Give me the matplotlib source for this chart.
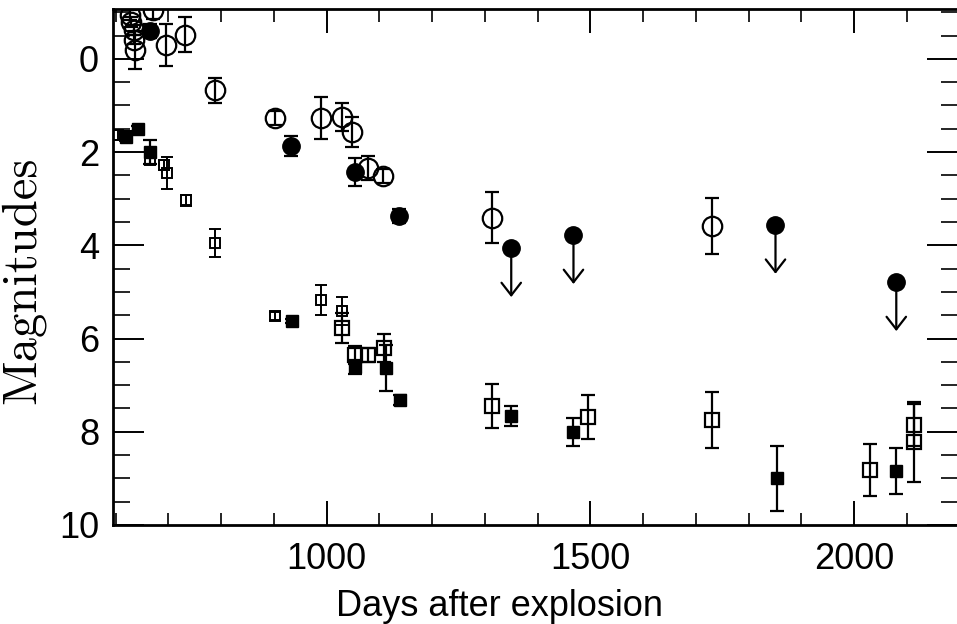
import matplotlib
matplotlib.use("Agg")
import matplotlib.pyplot as plt
from matplotlib.ticker import MultipleLocator

# Open circles (large)
oc_day = [628, 630, 634, 634, 636, 670, 695, 732, 789, 903, 990, 1030, 1049, 1079, 1106, 1313, 1730]
oc_mag = [-0.94, -0.79, -0.62, -0.41, -0.19, -1.05, -0.30, -0.52, 0.67, 1.27, 1.27, 1.24, 1.57, 2.34, 2.51, 3.41, 3.58]
oc_err = [0.1, 0.1, 0.1, 0.1, 0.4, 0.2, 0.45, 0.37, 0.27, 0.15, 0.45, 0.3, 0.33, 0.25, 0.15, 0.55, 0.6]

# Filled circles (detections)
fc_day = [666, 933, 1053, 1138]
fc_mag = [-0.6, 1.87, 2.42, 3.37]
fc_err = [0.15, 0.22, 0.3, 0.15]

# Filled circles (upper limits)
ul_day = [1350, 1468, 1851, 2080]
ul_mag = [4.06, 3.78, 3.56, 4.79]

# Small open squares
ss_day = [605, 617, 666, 691, 698, 734, 789, 903, 990, 1030]
ss_mag = [1.63, 1.65, 2.17, 2.28, 2.45, 3.03, 3.95, 5.52, 5.17, 5.41]
ss_err = [0.1, 0.1, 0.08, 0.1, 0.35, 0.12, 0.3, 0.08, 0.32, 0.3]

# Large open squares
os_day = [1030, 1053, 1079, 1108, 1313, 1496, 1730, 2031, 2113, 2113]
os_mag = [5.77, 6.35, 6.35, 6.20, 7.45, 7.68, 7.75, 8.82, 7.85, 8.22]
os_err = [0.32, 0.2, 0.15, 0.3, 0.47, 0.47, 0.6, 0.55, 0.45, 0.85]

# Filled squares
fs_day = [619, 643, 666, 935, 1053, 1113, 1140, 1350, 1468, 1853, 2080]
fs_mag = [1.67, 1.50, 2.00, 5.62, 6.61, 6.63, 7.32, 7.66, 8.00, 9.00, 8.84]
fs_err = [0.05, 0.05, 0.25, 0.05, 0.15, 0.5, 0.1, 0.22, 0.3, 0.7, 0.5]

xticks = [1000, 1500, 2000]
yticks = [0, 2, 4, 6, 8, 10]

sans = ['Liberation Sans Narrow', 'DejaVu Sans Condensed', 'Liberation Sans', 'DejaVu Sans']

fig = plt.figure(figsize=(9.57, 6.24), dpi=100)
ax = fig.add_axes([113/957, 99/624, 845/957, 516/624])

ekw = dict(linestyle='none', ecolor='black', elinewidth=1.6, capsize=5, capthick=1.6)

ax.errorbar(oc_day, oc_mag, yerr=oc_err, marker='o', ms=14, mfc='none', mec='black', mew=1.6, zorder=3, **ekw)
ax.errorbar(fc_day, fc_mag, yerr=fc_err, marker='o', ms=12.5, mfc='black', mec='black', zorder=4, **ekw)
ax.plot(ul_day, ul_mag, linestyle='none', marker='o', ms=12.5, mfc='black', mec='black', zorder=4)
for d, m in zip(ul_day, ul_mag):
    ax.annotate('', xy=(d, m + 1.05), xytext=(d, m),
                arrowprops=dict(arrowstyle='->,head_length=0.45,head_width=0.35',
                                mutation_scale=20, color='black', lw=1.6,
                                shrinkA=0, shrinkB=0), zorder=2)
ax.errorbar(ss_day, ss_mag, yerr=ss_err, marker='s', ms=7, mfc='none', mec='black', mew=1.4, zorder=3,
            linestyle='none', ecolor='black', elinewidth=1.4, capsize=4, capthick=1.4)
ax.errorbar(os_day, os_mag, yerr=os_err, marker='s', ms=10, mfc='none', mec='black', mew=1.6, zorder=3, **ekw)
ax.errorbar(fs_day, fs_mag, yerr=fs_err, marker='s', ms=9, mfc='black', mec='black', zorder=4, **ekw)

ax.set_xlim(595, 2197)
ax.set_ylim(10, -1.07)

ax.set_xticks(xticks)
ax.set_yticks(yticks)
ax.xaxis.set_minor_locator(MultipleLocator(100))
ax.yaxis.set_minor_locator(MultipleLocator(0.5))

ax.tick_params(axis='both', which='both', direction='in', top=True, right=True, color='black')
ax.tick_params(axis='x', which='major', length=17, width=1.4, pad=12)
ax.tick_params(axis='x', which='minor', length=9, width=1.2)
ax.tick_params(axis='y', which='major', length=22, width=1.4, pad=10)
ax.tick_params(axis='y', which='minor', length=12, width=1.2)

for lab in ax.get_xticklabels() + ax.get_yticklabels():
    lab.set_fontfamily(sans)
    lab.set_fontsize(26)

for sp in ax.spines.values():
    sp.set_linewidth(2)

ax.set_xlabel('Days after explosion', fontfamily=sans, fontsize=26)
ax.xaxis.set_label_coords((500 - 113) / 845, -0.125)
ax.set_ylabel('Magnitudes', fontfamily='cmr10', fontsize=35)
ax.yaxis.set_label_coords(-0.08, (525 - 280) / 516)

fig.savefig('out.png', dpi=100)
